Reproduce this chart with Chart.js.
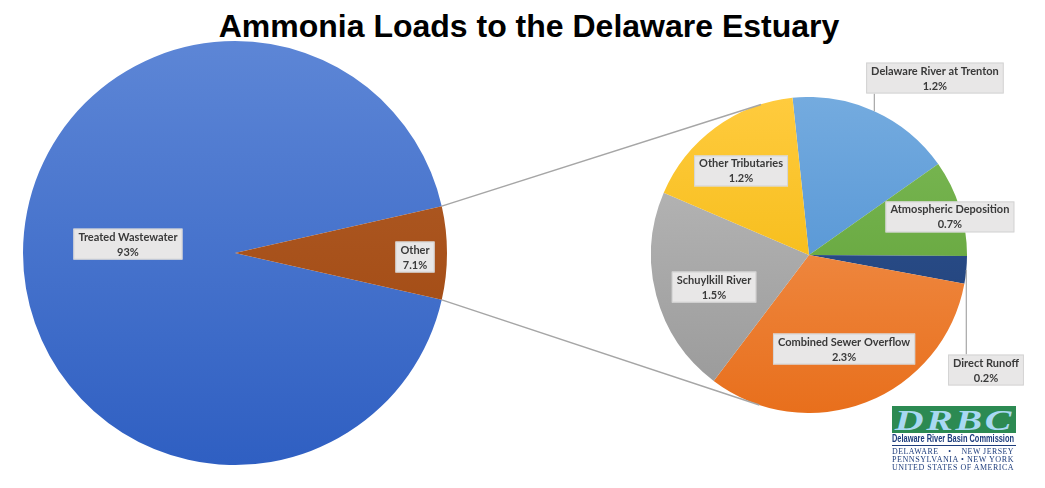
<!DOCTYPE html>
<html>
<head>
<meta charset="utf-8">
<script src="https://cdn.jsdelivr.net/npm/chart.js@4.4.1/dist/chart.umd.min.js"></script>
<style>
  body { margin: 0; width: 1045px; height: 488px; background: #fff; position: relative; overflow: hidden; }
  #title { position: absolute; left: 0; width: 1058px; top: 10px; text-align: center;
           font: bold 32px/32px "Liberation Sans", Arial, sans-serif; color: #000; }
  #bigWrap { position: absolute; left: 23px; top: 41px; width: 424px; height: 424px; }
  #smallWrap { position: absolute; left: 651px; top: 97px; width: 316px; height: 316px; }
  #overlay { position: absolute; left: 0; top: 0; pointer-events: none; }
  #logo { position: absolute; left: 892px; top: 406px; width: 124px; color: #1d3c7c; }
  #logo .fit { display: block; width: max-content; transform-origin: 0 0; white-space: pre; }
  #logo .band { height: 27px; background: #2c8a52; overflow: hidden; }
  #logo .band .fit { color: #a9d9f3; font: italic bold 30px/27px "Liberation Serif", serif;
                     letter-spacing: 2px; padding-left: 2px; }
  #logo .name { height: 12px; border-bottom: 1.5px solid #1d3c7c; }
  #logo .name .fit { font: bold 10px/12px "Liberation Sans", sans-serif; }
  #logo .row { height: 7.8px; margin-top: 0; }
  #logo .row .fit { font: 8px/8px "Liberation Serif", serif; letter-spacing: 0.5px; }
</style>
</head>
<body>
<div id="title">Ammonia Loads to the Delaware Estuary</div>
<div id="bigWrap"><canvas id="bigPie" width="424" height="424"></canvas></div>
<div id="smallWrap"><canvas id="smallPie" width="316" height="316"></canvas></div>
<canvas id="overlay" width="1045" height="488"></canvas>
<div id="logo">
  <div class="band"><span class="fit">DRBC</span></div>
  <div class="name"><span class="fit">Delaware River Basin Commission</span></div>
  <div class="row" style="margin-top:2px"><span class="fit">DELAWARE    •    NEW JERSEY</span></div>
  <div class="row"><span class="fit">PENNSYLVANIA • NEW YORK</span></div>
  <div class="row"><span class="fit">UNITED STATES OF AMERICA</span></div>
</div>
<script>
// main pie
const mainLabels = ["Treated Wastewater", "Other"];
const mainValues = [93, 7.1];

// breakdown of "Other"
const otherLabels = ["Delaware River at Trenton", "Atmospheric Deposition", "Direct Runoff",
                     "Combined Sewer Overflow", "Schuylkill River", "Other Tributaries"];
const otherValues = [1.2, 0.7, 0.2, 2.3, 1.5, 1.2];

// [top, bottom] gradient colours per slice
const mainColors = [["#5d86d6", "#2f5fc2"], ["#b4612c", "#9c430b"]];
const otherColors = [["#74abdf", "#4288cf"], ["#7dba57", "#5a9c31"], ["#2f5696", "#1f3d73"],
                     ["#f49c5e", "#e86f1c"], ["#bdbdbd", "#989898"], ["#ffcb3e", "#efb300"]];

// label box position relative to pie centre, in pie radii
const mainLabelPos = [[-0.505, -0.042], [0.849, 0.019]];
const otherLabelPos = [[0.797, -1.12], [0.892, -0.241], [1.12, 0.728],
                       [0.222, 0.595], [-0.601, 0.203], [-0.43, -0.532]];

function sliceFill(pairs) {
    return function (ctx) {
        let pair = pairs[ctx.dataIndex];
        let area = ctx.chart.chartArea;
        if (!area) return pair[1];
        let g = ctx.chart.ctx.createLinearGradient(0, area.top, 0, area.bottom);
        g.addColorStop(0, pair[0]);
        g.addColorStop(1, pair[1]);
        return g;
    };
}

function pieOptions(rotation) {
    return {
        responsive: false,
        animation: false,
        rotation: rotation,
        layout: { padding: 0 },
        plugins: { legend: { display: false }, tooltip: { enabled: false } }
    };
}

let total = mainValues.reduce((a, b) => a + b, 0);
let bigChart = new Chart(document.getElementById("bigPie").getContext("2d"), {
    type: "pie",
    data: {
        labels: mainLabels,
        datasets: [{ data: mainValues, backgroundColor: sliceFill(mainColors), borderWidth: 0 }]
    },
    // centre the "Other" slice on the right-hand side
    options: pieOptions(90 + (mainValues[1] / total) * 180)
});

let smallChart = new Chart(document.getElementById("smallPie").getContext("2d"), {
    type: "pie",
    data: {
        labels: otherLabels,
        datasets: [{ data: otherValues, backgroundColor: sliceFill(otherColors), borderWidth: 0 }]
    },
    options: pieOptions(-6)
});

function pieInfo(chart, wrapId) {
    let wrap = document.getElementById(wrapId);
    let arcs = chart.getDatasetMeta(0).data;
    return { x: wrap.offsetLeft + arcs[0].x, y: wrap.offsetTop + arcs[0].y, r: arcs[0].outerRadius, arcs: arcs };
}

function drawLabels(g, pie, labels, values, layout) {
    g.font = "bold 11px Lato, sans-serif";
    labels.forEach((name, i) => {
        let cx = pie.x + layout[i][0] * pie.r;
        let cy = pie.y + layout[i][1] * pie.r;
        let line2 = values[i] + "%";
        let w = Math.max(g.measureText(name).width, g.measureText(line2).width) + 10;
        let h = 31;
        let left = cx - w / 2, top = cy - h / 2;

        // leader line when the label sits outside the pie
        if (Math.hypot(cx - pie.x, cy - pie.y) > pie.r) {
            let arc = pie.arcs[i];
            let mid = (arc.startAngle + arc.endAngle) / 2;
            let ex = pie.x + pie.r * Math.cos(mid), ey = pie.y + pie.r * Math.sin(mid);
            let bx = Math.min(Math.max(ex, left), left + w);
            let by = Math.min(Math.max(ey, top), top + h);
            g.strokeStyle = "#a6a6a6";
            g.lineWidth = 1.2;
            g.beginPath(); g.moveTo(ex, ey); g.lineTo(bx, by); g.stroke();
        }

        g.fillStyle = "#e8e7e7";
        g.fillRect(left, top, w, h);
        g.strokeStyle = "#d4d4d4";
        g.lineWidth = 1;
        g.strokeRect(left + 0.5, top + 0.5, w - 1, h - 1);
        g.fillStyle = "#3a3a3a";
        g.textAlign = "center";
        g.textBaseline = "middle";
        g.fillText(name, cx, cy - 7);
        g.fillText(line2, cx, cy + 8);
    });
}

function drawOverlay() {
    let g = document.getElementById("overlay").getContext("2d");
    let big = pieInfo(bigChart, "bigWrap");
    let small = pieInfo(smallChart, "smallWrap");
    let other = big.arcs[1];

    // connector lines: from the outer corners of "Other" tangent to the breakdown pie
    g.strokeStyle = "#a6a6a6";
    g.lineWidth = 1.5;
    [other.startAngle, other.endAngle].forEach((a, i) => {
        let px = big.x + big.r * Math.cos(a), py = big.y + big.r * Math.sin(a);
        let dx = px - small.x, dy = py - small.y;
        let base = Math.atan2(dy, dx);
        let t = Math.acos(small.r / Math.hypot(dx, dy));
        let ta = i === 0 ? base + t : base - t;
        g.beginPath();
        g.moveTo(px, py);
        g.lineTo(small.x + small.r * Math.cos(ta), small.y + small.r * Math.sin(ta));
        g.stroke();
    });

    drawLabels(g, big, mainLabels, mainValues, mainLabelPos);
    drawLabels(g, small, otherLabels, otherValues, otherLabelPos);
}

drawOverlay();

// squeeze logo text lines to the logo width
document.querySelectorAll("#logo .fit").forEach(el => {
    let s = 122 / el.getBoundingClientRect().width;
    el.style.transform = "scaleX(" + s + ")";
});
</script>
</body>
</html>
